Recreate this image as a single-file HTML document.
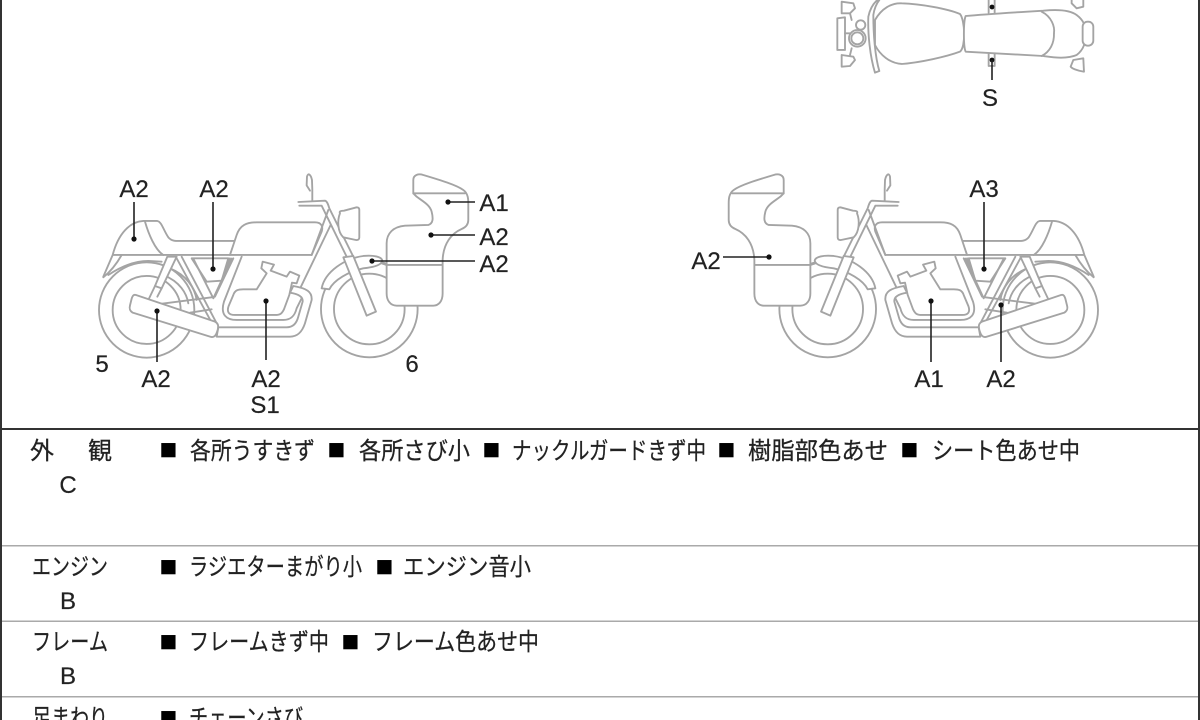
<!DOCTYPE html>
<html lang="ja">
<head>
<meta charset="utf-8">
<style>
html,body{margin:0;padding:0;background:#fff;width:1200px;height:720px;overflow:hidden}
svg{display:block}
.l{font-family:"Liberation Sans","Noto Sans CJK JP",sans-serif;font-size:24px;fill:#222;text-anchor:middle;stroke:#222;stroke-width:.2}
.j{font-family:"Liberation Sans","Noto Sans CJK JP",sans-serif;font-size:24px;fill:#222;stroke:#222;stroke-width:.25}
.b{font-family:"Liberation Sans","Noto Sans CJK JP",sans-serif;font-size:29.5px;fill:#000}
.o{fill:none;stroke:#a4a4a4;stroke-width:5.6;stroke-linejoin:round;stroke-linecap:round}
.w{fill:#fff;stroke:#a4a4a4;stroke-width:5.6;stroke-linejoin:round;stroke-linecap:round}
.k{stroke:#222;stroke-width:1.6;fill:none}
.d{fill:#111}
</style>
</head>
<body>
<svg width="1200" height="720" viewBox="0 0 1200 720" xmlns="http://www.w3.org/2000/svg">
<rect width="1200" height="720" fill="#fff"/>

<defs>
<g id="bike">
  <circle class="o" cx="200" cy="450" r="143"/>
  <circle class="o" cx="200" cy="450" r="102"/>
  <path class="o" d="M250,345 C300,365 320,400 325,430 M270,325 C320,345 345,385 350,420"/>
  <circle class="o" cx="868" cy="447" r="145"/>
  <circle class="o" cx="868" cy="447" r="106"/>
  <path class="w" d="M70,350 L98,285 C115,220 150,185 190,183 L232,183 C245,185 250,210 265,232 C275,243 285,243 300,243 L465,243 L450,285 L98,285"/>
  <path class="o" d="M195,185 C205,220 225,270 250,285"/>
  <path class="o" d="M70,352 C85,340 105,320 125,285 M85,345 C130,315 170,303 205,303 L245,305"/>
  <path class="w" d="M450,285 L470,225 C480,195 500,187 530,187 L705,187 C725,187 730,200 725,215 L695,285 Z"/>
  <path class="w" d="M262,290 L225,378 L245,385 L290,290 Z"/>
  <path class="o" d="M225,378 L205,420 M245,385 L232,410"/>
  <path class="o" d="M305,290 L410,490 M290,295 L392,482 M340,296 L400,415 L455,296"/>
  <path class="o" d="M335,295 L445,295 L425,362 L380,365 Z"/>
  <path class="o" d="M485,290 L432,425 C420,465 440,480 470,480 L610,480 C635,480 645,465 650,445 L665,415"/>
  <path class="o" d="M460,295 L405,410 M450,295 L418,380"/>
  <path class="o" d="M240,432 L395,412 M330,458 L395,448"/>
  <path class="w" d="M548,305 L582,314 L572,332 L620,350 L630,335 L658,347 L650,370 L636,368 L628,405 L612,448 C605,462 600,465 585,465 L465,465 C445,465 440,455 446,438 L460,405 C465,390 475,388 490,388 L530,388 L560,340 L544,325 Z"/>
  <path class="w" d="M415,502 L620,502 C640,502 650,490 655,470 L668,425 C670,410 655,402 630,398 L640,378 C680,385 697,395 695,420 L675,490 C665,520 650,530 630,530 L410,530 Z"/>
  <path class="w" d="M168,405 L405,485 C415,490 416,497 413,510 C408,528 402,534 390,530 L158,458 C150,453 147,447 150,436 L155,416 C158,406 162,403 168,405 Z"/>
  <path class="o" d="M695,285 L745,150 M662,382 L752,195"/>
  <path class="o" d="M655,126 L735,122 C742,124 745,135 748,145 L820,290 M658,137 L725,137 L800,290"/>
  <path class="o" d="M697,122 L697,88 M690,92 L680,76 L681,50 C684,38 692,42 696,60 L697,88"/>
  <path class="w" d="M780,160 Q776,152 792,152 L830,142 Q838,142 838,150 L838,232 Q838,241 828,240 L790,232 C772,215 772,180 780,160 Z"/>
  <path class="w" d="M725,385 C735,335 795,295 850,288 C880,285 905,290 907,302 C905,316 880,322 850,325 C805,335 762,360 748,388 Z"/>
  <path class="w" d="M790,292 L820,288 L888,455 L860,467 Z"/>
  <path class="w" d="M1000,100 L1000,60 C1000,45 1015,40 1030,45 C1080,60 1130,75 1150,90 C1165,100 1165,120 1165,130 L1165,180 C1165,195 1155,203 1145,207 C1115,220 1090,250 1088,300 L1088,400 C1088,425 1075,437 1060,437 L950,437 C930,437 920,420 920,400 L920,250 C920,220 940,200 975,197 L1045,195 C1060,190 1060,175 1055,155 C1050,135 1030,125 1010,110 Z"/>
  <path class="o" d="M1000,100 L1155,100 M920,315 L1088,315 M905,310 L920,315"/>
</g>
</defs>

<!-- top view -->
<g transform="translate(820,0) scale(0.3333)">
  <path class="o" d="M65,5 L100,10 L105,25 L90,40 L65,40 Z M65,165 L100,170 L105,180 L90,198 L65,200 Z"/>
  <path class="o" d="M52,55 L75,52 L75,150 L52,150 Z"/>
  <path class="o" d="M755,0 L755,10 L770,25 L790,20 L790,0 M760,180 L790,175 L792,215 C770,212 755,205 752,200 Z"/>
  <path class="o" d="M90,40 L95,60 M90,165 L95,145 M75,100 L90,100"/>
  <circle class="o" cx="112" cy="115" r="25"/>
  <circle class="o" cx="112" cy="115" r="18"/>
  <circle class="o" cx="122" cy="75" r="14"/>
  <path class="w" d="M172,0 C155,15 148,35 145,50 C143,100 150,170 165,218 L178,213 C165,170 160,100 160,45 C163,25 170,10 178,0"/>
  <path class="w" d="M165,60 C185,25 215,8 245,10 C300,12 380,25 420,42 C435,60 438,140 420,155 C380,170 300,188 245,192 C210,190 180,165 165,135 Z"/>
  <path class="w" d="M437,48 C500,42 620,35 670,32 C710,28 750,30 770,45 C790,60 800,80 795,100 C800,125 790,150 770,165 C740,178 700,172 670,168 L437,155 C430,140 430,65 437,48 Z"/>
  <path class="o" d="M665,35 C695,50 705,80 702,100 C703,130 690,155 665,168"/>
  <rect class="w" x="788" y="65" width="32" height="72" rx="15"/>
  <path class="o" d="M506,0 L506,38 M524,0 L524,38 M506,162 L506,198 L524,198 L524,162"/>
</g>
<circle class="d" cx="992" cy="7" r="2.4"/>
<circle class="d" cx="992" cy="60" r="2.4"/>
<path class="k" d="M992,60 V80"/>
<text class="l" x="990" y="106">S</text>

<!-- left bike -->
<use href="#bike" transform="translate(80,160) scale(0.3333)"/>
<!-- right bike (mirrored) -->
<use href="#bike" transform="translate(1117,160) scale(-0.3333,0.3333)"/>

<!-- left leaders -->
<path class="k" d="M134,202V239 M213,202V269 M448,202H475 M431,235H475 M372,261H475 M157,311V362 M266,301V360"/>
<g class="d">
  <circle cx="134" cy="239" r="2.6"/><circle cx="213" cy="269" r="2.6"/><circle cx="448" cy="202" r="2.6"/>
  <circle cx="431" cy="235" r="2.6"/><circle cx="372" cy="261" r="2.6"/><circle cx="157" cy="311" r="2.6"/><circle cx="266" cy="301" r="2.6"/>
</g>
<text class="l" x="134" y="197">A2</text>
<text class="l" x="214" y="197">A2</text>
<text class="l" x="494" y="211">A1</text>
<text class="l" x="494" y="245">A2</text>
<text class="l" x="494" y="272">A2</text>
<text class="l" x="102" y="372">5</text>
<text class="l" x="156" y="387">A2</text>
<text class="l" x="266" y="387">A2</text>
<text class="l" x="265" y="413">S1</text>
<text class="l" x="412" y="372">6</text>

<!-- right leaders -->
<path class="k" d="M723,257H769 M984,202V269 M931,301V362 M1001,305V362"/>
<g class="d">
  <circle cx="769" cy="257" r="2.6"/><circle cx="984" cy="269" r="2.6"/><circle cx="931" cy="301" r="2.6"/><circle cx="1001" cy="305" r="2.6"/>
</g>
<text class="l" x="706" y="269">A2</text>
<text class="l" x="984" y="197">A3</text>
<text class="l" x="929" y="387">A1</text>
<text class="l" x="1001" y="387">A2</text>

<!-- frame and table rules -->
<rect x="0" y="0" width="2" height="720" fill="#333"/>
<rect x="1198" y="0" width="2" height="720" fill="#333"/>
<rect x="0" y="428" width="1200" height="2" fill="#333"/>
<rect x="2" y="545" width="1196" height="1.5" fill="#aaa"/>
<rect x="2" y="620.5" width="1196" height="1.5" fill="#aaa"/>
<rect x="2" y="696" width="1196" height="1.5" fill="#aaa"/>

<!-- row 1 -->
<text class="j" x="30" y="459">外</text>
<text class="j" x="88" y="459">観</text>
<text class="l" x="68" y="493">C</text>
<text class="b" x="159.5" y="459">■</text>
<text class="j" x="190" y="459" textLength="125" lengthAdjust="spacingAndGlyphs">各所うすきず</text>
<text class="b" x="327.5" y="459">■</text>
<text class="j" x="359" y="459" textLength="111" lengthAdjust="spacingAndGlyphs">各所さび小</text>
<text class="b" x="482.5" y="459">■</text>
<text class="j" x="512" y="459" textLength="194" lengthAdjust="spacingAndGlyphs">ナックルガードきず中</text>
<text class="b" x="717.5" y="459">■</text>
<text class="j" x="748" y="459" textLength="140" lengthAdjust="spacingAndGlyphs">樹脂部色あせ</text>
<text class="b" x="900.5" y="459">■</text>
<text class="j" x="932" y="459" textLength="148" lengthAdjust="spacingAndGlyphs">シート色あせ中</text>

<!-- row 2 -->
<text class="j" x="32" y="575" textLength="76" lengthAdjust="spacingAndGlyphs">エンジン</text>
<text class="l" x="68" y="609">B</text>
<text class="b" x="159.5" y="576">■</text>
<text class="j" x="189" y="575" textLength="173" lengthAdjust="spacingAndGlyphs">ラジエターまがり小</text>
<text class="b" x="375.5" y="576">■</text>
<text class="j" x="403" y="575" textLength="128" lengthAdjust="spacingAndGlyphs">エンジン音小</text>

<!-- row 3 -->
<text class="j" x="32" y="650" textLength="76" lengthAdjust="spacingAndGlyphs">フレーム</text>
<text class="l" x="68" y="684">B</text>
<text class="b" x="159.5" y="651">■</text>
<text class="j" x="189" y="650" textLength="140" lengthAdjust="spacingAndGlyphs">フレームきず中</text>
<text class="b" x="341.5" y="651">■</text>
<text class="j" x="372" y="650" textLength="167" lengthAdjust="spacingAndGlyphs">フレーム色あせ中</text>

<!-- row 4 -->
<text class="j" x="32" y="726" textLength="76" lengthAdjust="spacingAndGlyphs">足まわり</text>
<text class="b" x="159.5" y="727">■</text>
<text class="j" x="189" y="726" textLength="114" lengthAdjust="spacingAndGlyphs">チェーンさび</text>
</svg>
</body>
</html>
